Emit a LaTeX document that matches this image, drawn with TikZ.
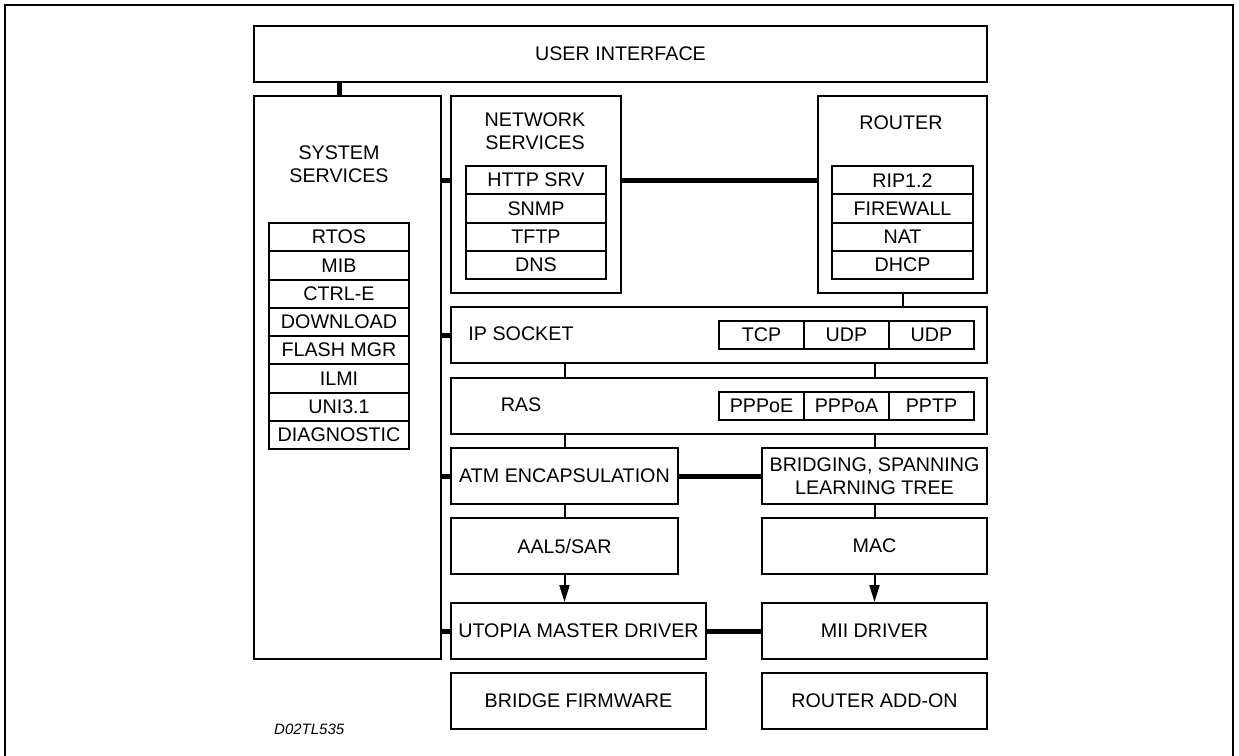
\documentclass[tikz,border=0pt]{standalone}
\usepackage{fontspec}
\setmainfont{Liberation Sans}
\usetikzlibrary{arrows.meta,calc}
\begin{document}
\begin{tikzpicture}[x=1pt,y=-1pt,
  box/.style={draw, line width=2pt, inner sep=0pt, anchor=north west, font=\fontsize{19.7}{23}\selectfont, align=center},
  cell/.style={draw, line width=2pt, inner sep=0pt, anchor=north west, minimum width=#1, minimum height=28.25pt, font=\fontsize{19.7}{23}\selectfont},
  lbl/.style={font=\fontsize{19.7}{23}\selectfont, align=center, inner sep=0pt},
  thickconn/.style={line width=5pt},
  thinconn/.style={line width=2pt},
  arrowconn/.style={line width=2pt, -{Triangle[width=10pt,length=17pt]}}]
\useasboundingbox (0,0) rectangle (1239,755);
\draw[line width=2.5pt] (5,758) -- (5,5) -- (1233,5) -- (1233,758);

% boxes
\node[box, minimum width=733pt, minimum height=56pt] (ui) at (253,25) {USER INTERFACE};
\node[box, minimum width=187pt, minimum height=563pt] (sys) at (253,95) {};
\node[lbl] (systxt) at (339,164) {SYSTEM\\SERVICES};
\node[box, minimum width=170pt, minimum height=197pt] (net) at (450,95) {};
\node[lbl] (nettxt) at (535,131) {NETWORK\\SERVICES};
\node[box, minimum width=169pt, minimum height=197pt] (rtr) at (817,95) {};
\node[lbl] (rtrtxt) at (901,123) {ROUTER};

% system services list
\node[cell=140pt] (rtos) at (268,222) {RTOS};
\node[cell=140pt] (mib) at (268,250.25) {MIB};
\node[cell=140pt] (ctrl) at (268,278.5) {CTRL-E};
\node[cell=140pt] (dl) at (268,306.75) {DOWNLOAD};
\node[cell=140pt] (flash) at (268,335) {FLASH MGR};
\node[cell=140pt] (ilmi) at (268,363.25) {ILMI};
\node[cell=140pt] (uni) at (268,391.5) {UNI3.1};
\node[cell=140pt] (diag) at (268,419.75) {DIAGNOSTIC};

% network services list
\node[cell=140pt] (http) at (465,165) {HTTP SRV};
\node[cell=140pt] (snmp) at (465,193.25) {SNMP};
\node[cell=140pt] (tftp) at (465,221.5) {TFTP};
\node[cell=140pt] (dns) at (465,249.75) {DNS};

% router list
\node[cell=141pt] (rip) at (831,165) {RIP1.2};
\node[cell=141pt] (fw) at (831,193.25) {FIREWALL};
\node[cell=141pt] (nat) at (831,221.5) {NAT};
\node[cell=141pt] (dhcp) at (831,249.75) {DHCP};

% IP socket
\node[box, minimum width=536pt, minimum height=56pt] (ip) at (450,306) {};
\node[lbl] (iptxt) at (521,334) {IP SOCKET};
\node[cell=85pt, minimum height=28pt] (tcp) at (718,320) {TCP};
\node[cell=85pt, minimum height=28pt] (udp1) at (803,320) {UDP};
\node[cell=85pt, minimum height=28pt] (udp2) at (888,320) {UDP};

% RAS
\node[box, minimum width=536pt, minimum height=56pt] (ras) at (450,377) {};
\node[lbl] (rastxt) at (521,405) {RAS};
\node[cell=85pt, minimum height=28pt] (pppoe) at (718,391) {PPPoE};
\node[cell=85pt, minimum height=28pt] (pppoa) at (803,391) {PPPoA};
\node[cell=85pt, minimum height=28pt] (pptp) at (888,391) {PPTP};

% lower boxes
\node[box, minimum width=227pt, minimum height=56pt] (atm) at (450,447) {ATM ENCAPSULATION};
\node[box, minimum width=225pt, minimum height=56pt] (bri) at (761,447) {BRIDGING, SPANNING\\LEARNING TREE};
\node[box, minimum width=227pt, minimum height=56pt] (aal) at (450,517) {AAL5/SAR};
\node[box, minimum width=225pt, minimum height=56pt] (mac) at (761,517) {MAC};
\node[box, minimum width=255pt, minimum height=56pt] (uto) at (450,602) {UTOPIA MASTER DRIVER};
\node[box, minimum width=225pt, minimum height=56pt] (mii) at (761,602) {MII DRIVER};
\node[box, minimum width=255pt, minimum height=56pt] (bfw) at (450,672) {BRIDGE FIRMWARE};
\node[box, minimum width=225pt, minimum height=56pt] (rao) at (761,672) {ROUTER ADD-ON};

\node[font=\fontsize{15}{18}\selectfont\itshape, anchor=west, inner sep=0pt] (code) at (274,729) {D02TL535};

% thick connectors
\draw[thickconn] ([xshift=-8pt]sys.north) -- ([xshift=-8pt]sys.north |- ui.south);
\draw[thickconn] (sys.east |- http) -- (net.west |- http);
\draw[thickconn] (net.east |- http) -- (rtr.west |- http);
\draw[thickconn] (sys.east |- ip) -- (ip.west);
\draw[thickconn] (sys.east |- atm) -- (atm.west);
\draw[thickconn] (atm.east) -- (bri.west);
\draw[thickconn] (sys.east |- uto) -- (uto.west);
\draw[thickconn] (uto.east) -- (mii.west);

% thin connectors
\draw[thinconn] (rtr.south) -- (rtr.south |- ip.north);
\draw[thinconn] (atm.north |- ip.south) -- (atm.north |- ras.north);
\draw[thinconn] (bri.north |- ip.south) -- (bri.north |- ras.north);
\draw[thinconn] (atm.north |- ras.south) -- (atm.north);
\draw[thinconn] (bri.north |- ras.south) -- (bri.north);
\draw[thinconn] (atm.south) -- (aal.north);
\draw[thinconn] (bri.south) -- (mac.north);
\draw[arrowconn] (aal.south) -- (aal.south |- uto.north);
\draw[arrowconn] (mac.south) -- (mac.south |- mii.north);
\end{tikzpicture}
\end{document}
